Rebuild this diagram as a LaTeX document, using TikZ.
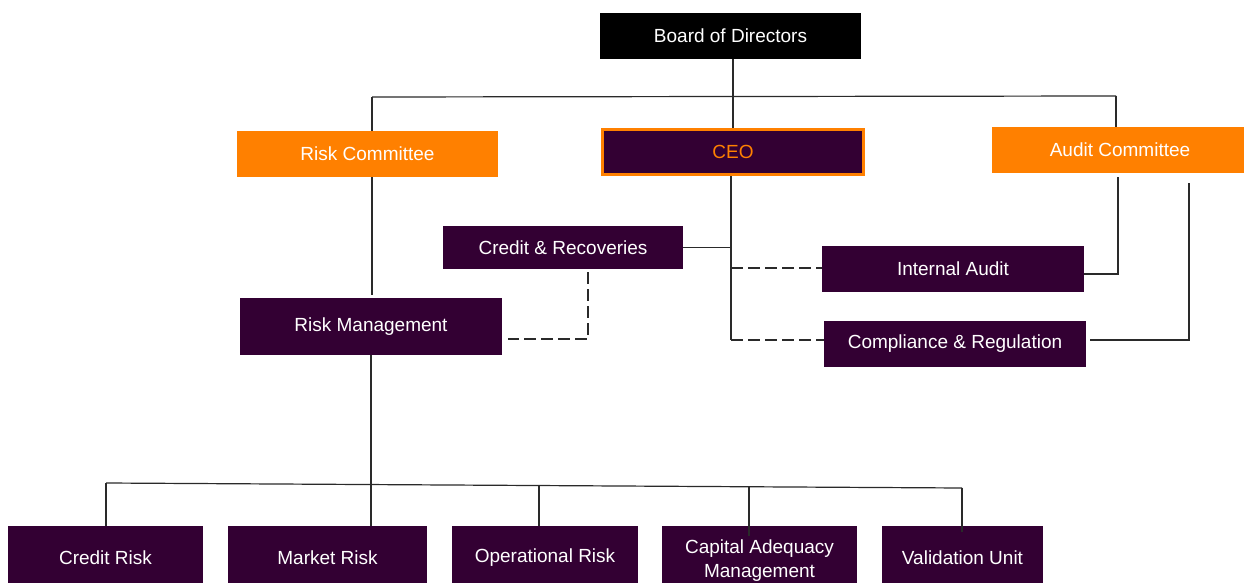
\documentclass[tikz,border=0pt]{standalone}
\usepackage{fontspec}
\setmainfont{Liberation Sans}
\definecolor{plum}{HTML}{330033}
\definecolor{orng}{HTML}{FF8000}
\definecolor{lnc}{HTML}{2A2A2A}
\begin{document}
\begin{tikzpicture}[x=1pt,y=-1pt,
  box/.style={rectangle, inner sep=0pt, text=white, align=center,
    font=\fontsize{19}{23}\selectfont},
  purplebox/.style={box, fill=plum},
  orangebox/.style={box, fill=orng},
  conn/.style={draw=lnc, line width=1.2pt},
  dconn/.style={conn, dash pattern=on 12pt off 5pt}]
\useasboundingbox[fill=white] (0,0) rectangle (1244,583);

% nodes
\node[box, fill=black, minimum width=261, minimum height=46] (board) at (730.5,36) {Board of Directors};
\node[orangebox, minimum width=261, minimum height=46] (rc) at (367.5,154) {Risk Committee};
\node[box, fill=plum, draw=orng, line width=3pt, text=orng, minimum width=261, minimum height=45] (ceo) at (733,152) {CEO};
\node[orangebox, minimum width=256, minimum height=46] (ac) at (1120,150) {Audit Committee};
\node[purplebox, minimum width=240, minimum height=43] (cr) at (563,247.5) {Credit \& Recoveries};
\node[purplebox, minimum width=262, minimum height=46] (ia) at (953,269) {Internal Audit};
\node[purplebox, minimum width=262, minimum height=57] (rm) at (371,326.5) {Risk Management};
\node[purplebox, minimum width=262, minimum height=46] (comp) at (955,344) {Compliance \& Regulation};

\node[purplebox, minimum width=195, minimum height=64] (crk) at (105.5,558) {Credit Risk};
\node[purplebox, minimum width=199, minimum height=64] (mrk) at (327.5,558) {Market Risk};
\node[purplebox, minimum width=186, minimum height=64] (ork) at (545,558) {Operational Risk};
\node[purplebox, minimum width=195, minimum height=70] (cam) at (759.5,561) {Capital Adequacy\\[1pt]Management};
\node[purplebox, minimum width=161, minimum height=64] (val) at (962.5,558) {Validation Unit};

% top bus
\coordinate (tl) at (372,97);
\coordinate (tr) at (1116,96);
\draw[conn] (tl) -- (tr);
\draw[conn] (ceo.north |- board.south) -- (ceo.north);
\draw[conn] (tl) -- (tl |- rc.north);
\draw[conn] (tr) -- (tr |- ac.north);

% risk committee to risk management
\draw[conn] (tl |- rc.south) -- ([yshift=3pt]rm.north -| tl);

% CEO branch
\coordinate (cv) at (731,340);
\draw[conn] (cv |- ceo.south) -- (cv);
\draw[conn] (cr.east) -- (cr.east -| cv);
\coordinate (ci) at (731,268);
\draw[dconn] (ci) -- (ia.west |- ci);
\draw[dconn] (cv) -- (comp.west |- cv);

% credit & recoveries to risk management (dashed)
\coordinate (cd) at (588,339);
\draw[dconn] ([yshift=-3pt]cr.south -| cd) -- (cd) -- ([xshift=6pt]rm.east |- cd);

% audit committee links
\coordinate (a1) at (1118,274);
\draw[conn] ([yshift=-4pt]ac.south -| a1) -- (a1) -- (ia.east |- a1);
\coordinate (a2) at (1189,340);
\draw[conn] ([yshift=-10pt]ac.south -| a2) -- (a2) -- ([xshift=4pt]comp.east |- a2);

% risk management to bottom
\coordinate (bl) at (106,483);
\coordinate (br) at (962,488);
\draw[conn] (bl) -- (br);
\draw[conn] (rm.south) -- (rm.south |- mrk.north);
\draw[conn] (bl) -- (bl |- crk.north);
\draw[conn] (539,486) -- (ork.north -| 539,0);
\draw[conn] (749,487) -- ([yshift=-10pt]cam.north -| 749,0);
\draw[conn] (br) -- ([yshift=-6pt]val.north -| br);
\end{tikzpicture}
\end{document}
